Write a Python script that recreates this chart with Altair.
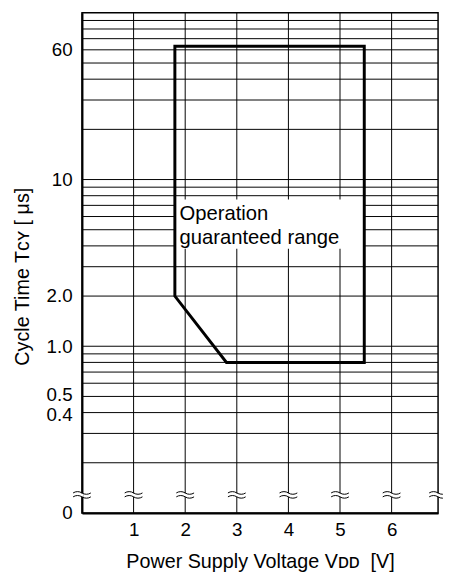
import altair as alt
import pandas as pd

# ---- data ----
poly_order = [0, 1, 2, 3, 4, 5]
poly_vdd = [1.8, 5.47, 5.47, 2.8, 1.8, 1.8]
poly_tcy = [63, 63, 0.8, 0.8, 2.0, 63]

x_domain = [0, 6.9]
x_grid = [1, 2, 3, 4, 5, 6]
y_grid = [0.2, 0.3, 0.4, 0.5, 0.6, 0.7, 0.8, 0.9,
          1, 2, 3, 4, 5, 6, 7, 8, 9,
          10, 20, 30, 40, 50, 60, 70, 80, 90]
y_tick_values = [0.1, 0.4, 0.5, 1, 2, 10, 60]
x_tick_values = [1, 2, 3, 4, 5, 6]

break_x = [0, 1, 2, 3, 4, 5, 6, 6.9]
break_y = 0.128

label_lines = "Operation\nguaranteed range"
label_x = [1.89]
label_y = [5.7]
box_x = [1.8]
box_x2 = [5.47]
box_y = [3.85]
box_y2 = [7.6]

FONT = "Liberation Sans"

xs = alt.Scale(domain=x_domain, nice=False, zero=False)
ys = alt.Scale(type="log", domain=[0.1, 100], nice=False)

x_axis = alt.Axis(
    values=x_tick_values, title="Power Supply Voltage Vᴅᴅ\u00a0 [V]",
    ticks=False, labelPadding=8, grid=False, domainWidth=2, labelOverlap=False,
    domainColor="black", labelFontSize=19, labelFont=FONT, labelColor="black",
    titleFontSize=20, titleFont=FONT, titleColor="black", titleFontWeight="normal",
    titleY=49, titleBaseline="middle",
)
y_axis = alt.Axis(
    values=y_tick_values,
    labelExpr="datum.value == 0.1 ? '0' : (datum.value >= 10 ? format(datum.value, 'd') : format(datum.value, '.1f'))",
    labelOffset={"condition": [{"test": "datum.value == 0.5", "value": -2},
                               {"test": "datum.value == 0.4", "value": 2}],
                 "value": 0},
    title="Cycle Time Tᴄʏ [\u00a0μs]",
    ticks=False, labelPadding=10, grid=False, domainWidth=2, labelOverlap=False,
    domainColor="black", labelFontSize=19, labelFont=FONT, labelColor="black",
    titleFontSize=20, titleFont=FONT, titleColor="black", titleFontWeight="normal",
    titleX=-60.5, titleY=267, titleBaseline="middle", titleAngle=270,
)

poly_df = pd.DataFrame({"i": poly_order, "v": poly_vdd, "t": poly_tcy})
xg_df = pd.DataFrame({"v": x_grid})
yg_df = pd.DataFrame({"t": y_grid})
br_df = pd.DataFrame({"v": break_x, "t": [break_y] * len(break_x)})
lab_df = pd.DataFrame({"v": label_x, "t": label_y, "txt": [label_lines]})
box_df = pd.DataFrame({"v": box_x, "v2": box_x2, "t": box_y, "t2": box_y2})


def X(f):
    return alt.X(f, type="quantitative", scale=xs, axis=x_axis)


def Y(f):
    return alt.Y(f, type="quantitative", scale=ys, axis=y_axis)


xgrid = alt.Chart(xg_df).mark_rule(color="black", strokeWidth=1).encode(x=X("v"))
ygrid = alt.Chart(yg_df).mark_rule(color="black", strokeWidth=1).encode(y=Y("t"))
box = alt.Chart(box_df).mark_rect(fill="white", strokeWidth=0).encode(
    x=X("v"), x2="v2:Q", y=Y("t"), y2="t2:Q",
)
poly = alt.Chart(poly_df).mark_line(
    color="black", strokeWidth=3, strokeJoin="miter", strokeCap="square"
).encode(x=X("v"), y=Y("t"), order="i:Q")
label = alt.Chart(lab_df).mark_text(
    align="left", baseline="alphabetic", lineBreak="\n", fontSize=20.5,
    font=FONT, lineHeight=24, color="black"
).encode(x=X("v"), y=Y("t"), text="txt:N")

gap_path = "M -0.18 -0.2 L 0.18 -0.2 L 0.18 0.2 L -0.18 0.2 Z"
wave_path = ("M -1 -0.24 C -0.7 -0.44 -0.3 -0.44 0 -0.24 C 0.3 -0.04 0.7 -0.04 1 -0.24 "
             "M -1 0.2 C -0.7 0 -0.3 0 0 0.2 C 0.3 0.4 0.7 0.4 1 0.2")
gap = alt.Chart(br_df).mark_point(
    shape=gap_path, filled=True, fill="white", strokeWidth=0, size=324, opacity=1
).encode(x=X("v"), y=Y("t"))
waves = alt.Chart(br_df).mark_point(
    shape=wave_path, filled=False, stroke="black", strokeWidth=1, size=324, opacity=1
).encode(x=X("v"), y=Y("t"))

chart = alt.layer(xgrid, ygrid, box, poly, label, gap, waves).properties(
    width=361, height=507,
    autosize=alt.AutoSizeParams(type="none"),
    padding={"left": 75, "top": 1, "right": 5, "bottom": 59},
).configure_view(stroke="black", strokeWidth=1.5)

chart.save("out.html", embed_options={"renderer": "svg", "actions": False})
